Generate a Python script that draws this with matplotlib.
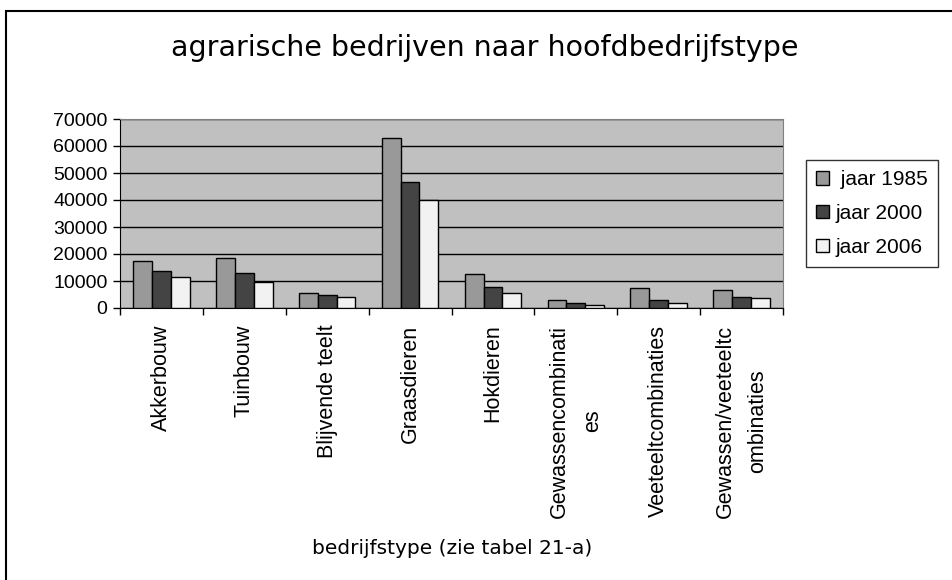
import matplotlib.pyplot as plt
import numpy as np
from matplotlib.patches import Rectangle

categories = ['Akkerbouw', 'Tuinbouw', 'Blijvende teelt', 'Graasdieren',
              'Hokdieren', 'Gewassencombinati\nes', 'Veeteeltcombinaties',
              'Gewassen/veeteeltc\nombinaties']
series_names = [' jaar 1985', 'jaar 2000', 'jaar 2006']
jaar_1985 = [17400, 18600, 5400, 63100, 12500, 3000, 7300, 6700]
jaar_2000 = [13700, 13100, 4800, 46800, 7900, 1700, 3000, 4200]
jaar_2006 = [11600, 9800, 4200, 40000, 5400, 1100, 1700, 3600]
colors = ['#999999', '#444444', '#f2f2f2']

fig = plt.figure(figsize=(9.52, 5.80), dpi=100)
ax = fig.add_axes([120 / 952, 1 - 308 / 580, 663 / 952, 189 / 580])

# kader rond de grafiek (rechts en onder vallen buiten het beeld)
fig.patches.append(Rectangle((6 / 952, -0.1), 1.2, 1 - 11 / 580 + 0.1,
                             transform=fig.transFigure, fill=False,
                             edgecolor='black', linewidth=1.5))

x = np.arange(len(categories))
w = 0.227
for i, vals in enumerate([jaar_1985, jaar_2000, jaar_2006]):
    ax.bar(x + (i - 1) * w, vals, w, color=colors[i], edgecolor='black',
           linewidth=1, label=series_names[i], zorder=3)

ax.set_facecolor('#c0c0c0')
ax.set_xlim(-0.5, len(categories) - 0.5)
ax.set_ylim(0, 70000)
ax.set_yticks(range(0, 70001, 10000))
ax.yaxis.grid(True, color='black', linewidth=1, zorder=1)
ax.set_axisbelow(True)

ax.set_xticks(np.arange(len(categories) + 1) - 0.5)
ax.set_xticklabels([])
ax.set_xticks(x, minor=True)
ax.set_xticklabels(categories, minor=True, rotation=90, va='top',
                   ha='center', multialignment='center',
                   fontfamily='Liberation Sans', fontsize=15.5,
                   linespacing=1.75)
ax.tick_params(axis='x', which='minor', length=0, pad=12)
ax.tick_params(axis='x', which='major', length=5, width=1, direction='out')
ax.tick_params(axis='y', length=5, width=1, direction='out', pad=4)
for lab in ax.get_yticklabels():
    lab.set_fontfamily('Liberation Sans')
    lab.set_fontsize(14)

for side in ['top', 'right']:
    ax.spines[side].set_color('#808080')
for side in ['left', 'bottom']:
    ax.spines[side].set_color('black')

fig.text(485 / 952, 1 - 48 / 580, 'agrarische bedrijven naar hoofdbedrijfstype',
         ha='center', va='center', fontsize=20.5, fontfamily='DejaVu Sans')
fig.text(452 / 952, 1 - 549 / 580, 'bedrijfstype (zie tabel 21-a)',
         ha='center', va='center', fontsize=14.5, fontfamily='DejaVu Sans')

leg = fig.legend(loc='upper left', bbox_to_anchor=(806 / 952, 1 - 160 / 580),
                 frameon=True, fancybox=False, edgecolor='black',
                 prop={'family': 'Liberation Sans', 'size': 15},
                 handlelength=0.6, handleheight=0.6, handletextpad=0.3,
                 labelspacing=0.7, borderpad=0.5, borderaxespad=0)
leg.get_frame().set_linewidth(1)

plt.savefig('out.png', dpi=100)
